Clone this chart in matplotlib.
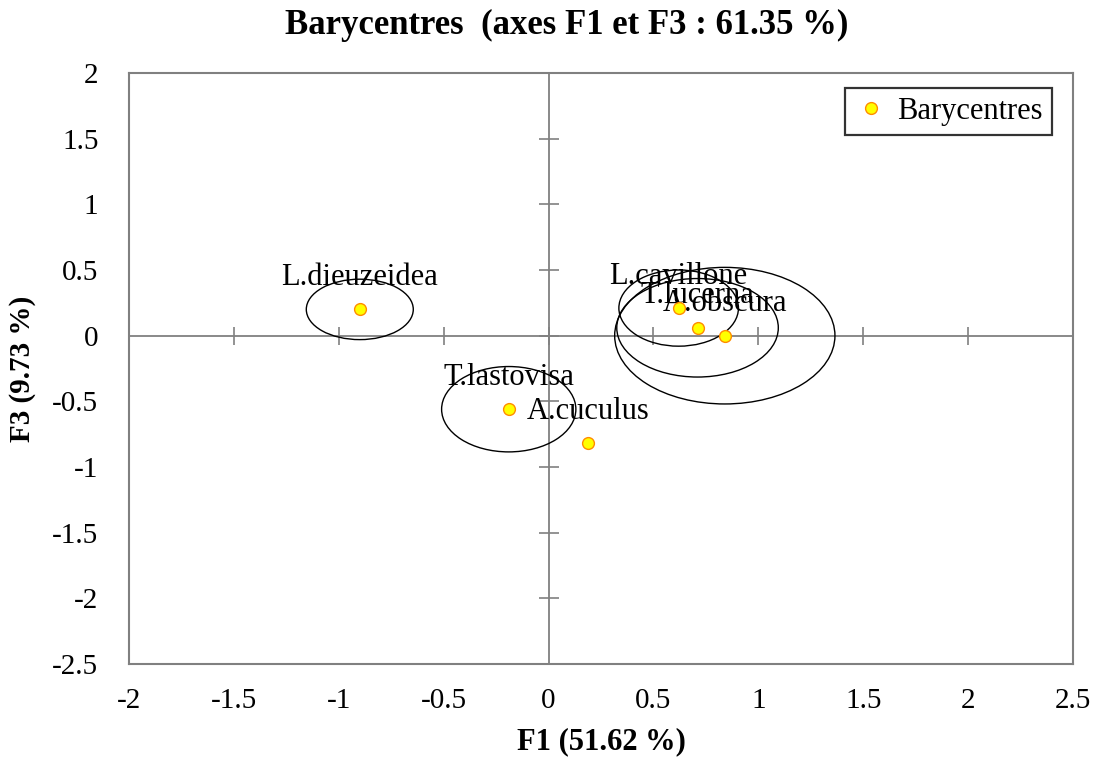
import matplotlib.pyplot as plt
from matplotlib.patches import Ellipse
import numpy as np

plt.rcParams['font.family'] = ['Liberation Serif', 'DejaVu Serif']

# barycentres des groupes (F1, F3)
groups = ['L.dieuzeidea', 'T.lastovisa', 'A.cuculus', 'L.cavillone', 'T.lucerna', 'A.obscura']
f1 = [-0.90, -0.19, 0.19, 0.62, 0.71, 0.84]
f3 = [0.20, -0.56, -0.82, 0.21, 0.06, 0.00]

# ellipses de confiance (largeur / hauteur en unites des axes), None = pas d'ellipse
ell_w = [0.51, 0.64, None, 0.57, 0.77, 1.05]
ell_h = [0.46, 0.65, None, 0.58, 0.75, 1.04]

xticks = [-2, -1.5, -1, -0.5, 0, 0.5, 1, 1.5, 2, 2.5]
yticks = [-2.5, -2, -1.5, -1, -0.5, 0, 0.5, 1, 1.5, 2]

fig = plt.figure(figsize=(11, 7.58), dpi=100)
ax = fig.add_axes([0.1173, 0.124, 0.8582, 0.7797])

ax.set_xlim(-2, 2.5)
ax.set_ylim(-2.5, 2)

# axes centraux gris avec graduations
ax.axhline(0, color='#808080', lw=1.3, zorder=1)
ax.axvline(0, color='#808080', lw=1.3, zorder=1)
ax.plot(xticks, [0] * len(xticks), ls='none', marker='|', ms=13, mew=1.2, color='#808080', zorder=1)
ax.plot([0] * len(yticks), yticks, ls='none', marker='_', ms=14, mew=1.2, color='#808080', zorder=1)

# ellipses
for x, y, w, h in zip(f1, f3, ell_w, ell_h):
    if w is None:
        continue
    ax.add_patch(Ellipse((x, y), w, h, fill=False, edgecolor='black', lw=1.0, zorder=2))

# points
ax.plot(f1, f3, ls='none', marker='o', ms=8.5, mfc='#FFFF00', mec='#FF8C00', mew=1.0,
        zorder=4, label='Barycentres')

# etiquettes
for name, x, y in zip(groups, f1, f3):
    ax.annotate(name, (x, y), xytext=(0, 23), textcoords='offset points',
                ha='center', va='center', fontsize=22, zorder=3)

ax.set_xticks(xticks)
ax.set_yticks(yticks)
ax.set_xticklabels(['-2', '-1.5', '-1', '-0.5', '0', '0.5', '1', '1.5', '2', '2.5'])
ax.set_yticklabels(['-2.5', '-2', '-1.5', '-1', '-0.5', '0', '0.5', '1', '1.5', '2'])
ax.tick_params(axis='both', length=0, labelsize=21)
ax.tick_params(axis='x', pad=17)
ax.tick_params(axis='y', pad=22)
for s in ax.spines.values():
    s.set_color('#808080')
    s.set_linewidth(1.5)

ax.set_xlabel('F1 (51.62 %)', fontsize=22, fontweight='bold', labelpad=10)
ax.set_ylabel('F3 (9.73 %)', fontsize=21, fontweight='bold', labelpad=12)
fig.text(0.515, 0.967, 'Barycentres  (axes F1 et F3 : 61.35 %)', fontsize=25,
         fontweight='bold', ha='center', va='center')

leg = ax.legend(loc='upper right', bbox_to_anchor=(0.9777, 0.9746), fontsize=22,
                frameon=True, fancybox=False, handletextpad=0.3, borderpad=0.3,
                handlelength=1.1, borderaxespad=0)
leg.get_frame().set_edgecolor('black')
leg.get_frame().set_linewidth(1.6)

fig.savefig('out.png', dpi=100, facecolor='white')
